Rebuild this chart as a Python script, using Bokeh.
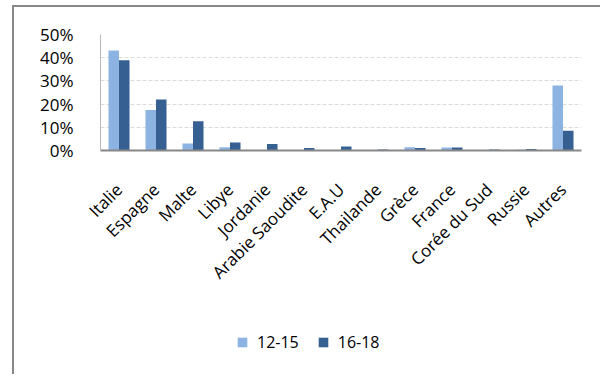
from bokeh.plotting import figure
from bokeh.layouts import column
from bokeh.models import ColumnDataSource, NumeralTickFormatter, Legend, LegendItem, FixedTicker
from bokeh.transform import dodge
from bokeh.embed import file_html
from bokeh.resources import INLINE
import math

categories = ["Italie", "Espagne", "Malte", "Libye", "Jordanie", "Arabie Saoudite", "E.A.U",
              "Thailande", "Grèce", "France", "Corée du Sud", "Russie", "Autres"]
s_12_15 = [0.431, 0.175, 0.030, 0.014, 0.0, 0.0, 0.0, 0.002, 0.014, 0.013, 0.002, 0.003, 0.280]
s_16_18 = [0.389, 0.220, 0.126, 0.034, 0.028, 0.011, 0.017, 0.004, 0.011, 0.013, 0.004, 0.006, 0.085]
y_ticks = [0, 0.1, 0.2, 0.3, 0.4, 0.5]
series_names = ["12-15", "16-18"]

LIGHT = "#8DB3E2"
DARK = "#376092"
FONT = "Open Sans"

src = ColumnDataSource(dict(cat=categories, a=s_12_15, b=s_16_18))

p = figure(x_range=categories, y_range=(0, 0.5), width=586, height=287,
           output_backend="svg", toolbar_location=None,
           min_border_left=86, min_border_right=19, min_border_top=27, min_border_bottom=130)

r1 = p.vbar(x=dodge("cat", -0.142, range=p.x_range), top="a", width=0.284, source=src,
            fill_color=LIGHT, line_color=None)
r2 = p.vbar(x=dodge("cat", 0.142, range=p.x_range), top="b", width=0.284, source=src,
            fill_color=DARK, line_color=None)

p.outline_line_color = None
p.background_fill_color = "white"
p.border_fill_color = "white"
p.x_range.range_padding = 0

p.xgrid.grid_line_color = None
p.ygrid.grid_line_color = "#dcdcdc"
p.ygrid.grid_line_dash = "4 2"
p.ygrid.grid_line_width = 1

p.yaxis.ticker = FixedTicker(ticks=y_ticks)
p.yaxis.formatter = NumeralTickFormatter(format="0%")
p.yaxis.axis_line_color = "#b8b8b8"
p.yaxis.major_tick_line_color = None
p.yaxis.minor_tick_line_color = None
p.yaxis.major_label_standoff = 21
p.yaxis.major_label_text_font = FONT
p.yaxis.major_label_text_font_size = "17px"
p.yaxis.major_label_text_color = "#000000"

p.xaxis.axis_line_color = "#878787"
p.xaxis.axis_line_width = 2
p.xaxis.major_tick_line_color = None
p.xaxis.minor_tick_line_color = None
p.xaxis.major_label_orientation = math.pi / 4
p.xaxis.major_label_standoff = 30
p.xaxis.major_label_text_font = FONT
p.xaxis.major_label_text_font_size = "17px"
p.xaxis.major_label_text_color = "#000000"

# legend panel
p2 = figure(width=586, height=80, x_range=(0, 1), y_range=(0, 1),
            output_backend="svg", toolbar_location=None,
            min_border_left=86, min_border_right=19, min_border_top=0, min_border_bottom=0)
p2.axis.visible = False
p2.grid.grid_line_color = None
p2.outline_line_color = None
p2.border_fill_color = "white"
p2.background_fill_color = "white"
l1 = p2.vbar(x=[0.5], top=[0], bottom=[0], width=0.0, fill_color=LIGHT, line_color=None)
l2 = p2.vbar(x=[0.5], top=[0], bottom=[0], width=0.0, fill_color=DARK, line_color=None)

legend = Legend(items=[LegendItem(label=series_names[0], renderers=[l1]),
                       LegendItem(label=series_names[1], renderers=[l2])],
                location=(136, 21), orientation="horizontal")
legend.glyph_width = 12
legend.glyph_height = 12
legend.label_height = 12
legend.label_standoff = 9
legend.spacing = 18
legend.padding = 0
legend.margin = 0
legend.border_line_color = None
legend.background_fill_alpha = 0
legend.label_text_font = FONT
legend.label_text_font_size = "16px"
legend.label_text_color = "#000000"
p2.add_layout(legend, "center")

layout = column(p, p2, spacing=0)
layout.styles = {"border-left": "2px solid #878787", "border-top": "2px solid #878787",
                 "margin-left": "12px", "margin-top": "5px"}

open("out.html", "w").write(file_html(layout, INLINE))
